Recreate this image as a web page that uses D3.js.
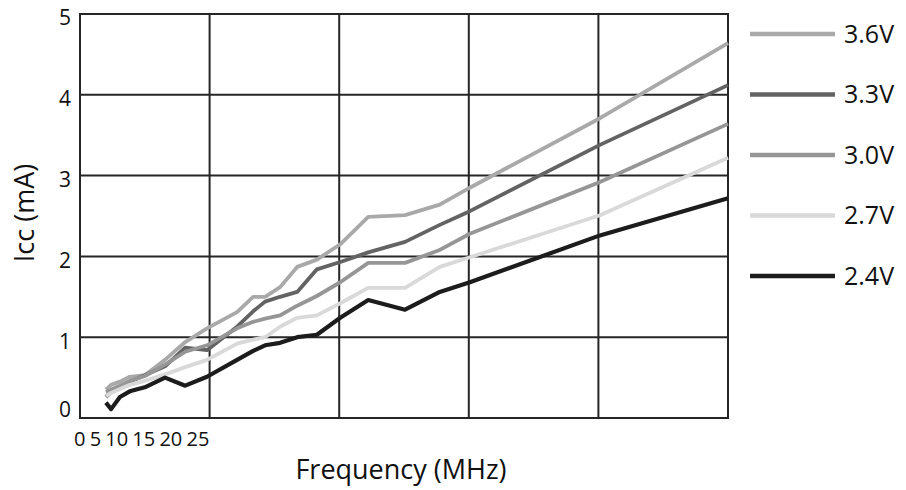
<!DOCTYPE html>
<html>
<head>
<meta charset="utf-8">
<script src="https://cdn.jsdelivr.net/npm/d3@7"></script>
<style>
  body { margin: 0; background: #fff; }
  text { font-family: 'Open Sans', 'Noto Sans', sans-serif; fill: #111; }
</style>
</head>
<body>
<div id="chart"></div>
<script>
// frequency (MHz) at which every curve was sampled
let freqs = [5, 6, 7.7, 9.6, 12.5, 16.4, 20.3, 24.5, 30.3, 33.4, 35.7, 38.6, 41.9, 45.7, 50.2, 55.6, 62.7, 69.4, 75.2, 100.3, 125]

let seriesNames = ['3.6V', '3.3V', '3.0V', '2.7V', '2.4V']

let icc36 = [0.35, 0.41, 0.45, 0.51, 0.53, 0.72, 0.94, 1.11, 1.31, 1.50, 1.50, 1.62, 1.87, 1.96, 2.15, 2.49, 2.51, 2.64, 2.85, 3.71, 4.64]
let icc33 = [0.26, 0.32, 0.38, 0.45, 0.53, 0.64, 0.87, 0.84, 1.13, 1.32, 1.44, 1.50, 1.56, 1.84, 1.93, 2.05, 2.18, 2.39, 2.56, 3.38, 4.12]
let icc30 = [0.32, 0.35, 0.40, 0.46, 0.52, 0.66, 0.82, 0.90, 1.11, 1.19, 1.23, 1.27, 1.39, 1.51, 1.68, 1.92, 1.92, 2.08, 2.28, 2.92, 3.64]
let icc27 = [0.27, 0.31, 0.36, 0.41, 0.46, 0.54, 0.63, 0.72, 0.92, 0.97, 1.00, 1.13, 1.24, 1.27, 1.42, 1.61, 1.61, 1.87, 1.99, 2.51, 3.22]
let icc24 = [0.19, 0.11, 0.26, 0.33, 0.38, 0.50, 0.40, 0.51, 0.72, 0.83, 0.90, 0.93, 1.00, 1.03, 1.24, 1.46, 1.34, 1.56, 1.68, 2.26, 2.72]

let yTicks = [0, 1, 2, 3, 4, 5]
let xGrid = [0, 25, 50, 75, 100, 125]
let xTickLabels = ['0', '5', '10', '15', '20', '25']

let colors = ['#a9a9a9', '#636363', '#969696', '#d9d9d9', '#1c1c1c']
let widths = [3.8, 3.8, 3.8, 3.8, 4.2]

let W = 906, H = 490
let plot = { left: 80, right: 728, top: 14, bottom: 418 }

let svg = d3.select('#chart').append('svg')
  .attr('width', W)
  .attr('height', H)

svg.append('rect').attr('width', W).attr('height', H).attr('fill', '#fff')

let x = d3.scaleLinear().domain([0, 125]).range([plot.left, plot.right])
let y = d3.scaleLinear().domain([0, 5]).range([plot.bottom, plot.top])

// grid
let grid = svg.append('g').attr('class', 'grid')
grid.selectAll('.hline')
  .data(yTicks)
  .enter().append('line')
  .attr('x1', plot.left - 1).attr('x2', plot.right + 1)
  .attr('y1', d => y(d)).attr('y2', d => y(d))
  .attr('stroke', '#262626')
  .attr('stroke-width', 2)

grid.selectAll('.vline')
  .data(xGrid)
  .enter().append('line')
  .attr('y1', plot.top).attr('y2', plot.bottom)
  .attr('x1', d => x(d)).attr('x2', d => x(d))
  .attr('stroke', '#262626')
  .attr('stroke-width', 2)

// y tick labels
svg.selectAll('.ylab')
  .data(yTicks)
  .enter().append('text')
  .attr('x', 71)
  .attr('y', d => y(d) + (d === 0 ? -8 : 4))
  .attr('dy', '0.35em')
  .attr('text-anchor', 'end')
  .style('font-size', '21px')
  .text(d => d)

// x tick labels, squeezed under the first cell as in the original
let xt = svg.append('text')
  .attr('x', x(0) - 6)
  .attr('y', 446)
  .style('font-size', '20px')
  .style('word-spacing', '-1px')
xTickLabels.forEach((t, i) => {
  xt.append('tspan').text((i ? ' ' : '') + t)
})

// axis titles
svg.append('text')
  .attr('x', 401)
  .attr('y', 479)
  .attr('text-anchor', 'middle')
  .style('font-size', '27px')
  .text('Frequency (MHz)')

svg.append('text')
  .attr('transform', 'translate(34,213) rotate(-90)')
  .attr('text-anchor', 'middle')
  .style('font-size', '27px')
  .text('Icc (mA)')

// curves
let allSeries = [icc36, icc33, icc30, icc27, icc24]
let curve = d3.line()
  .x((d, i) => x(freqs[i]))
  .y(d => y(d))

svg.append('g').selectAll('path')
  .data(allSeries)
  .enter().append('path')
  .attr('d', curve)
  .attr('fill', 'none')
  .attr('stroke', (d, i) => colors[i])
  .attr('stroke-width', (d, i) => widths[i])
  .attr('stroke-linejoin', 'round')

// legend
let legend = svg.append('g').attr('class', 'legend')
let leg = legend.selectAll('g')
  .data(seriesNames)
  .enter().append('g')
  .attr('transform', (d, i) => 'translate(750,' + (34 + i * 60.5) + ')')

leg.append('line')
  .attr('x1', 0).attr('x2', 85)
  .attr('stroke', (d, i) => colors[i])
  .attr('stroke-width', (d, i) => widths[i] + 0.5)

leg.append('text')
  .attr('x', 94)
  .attr('dy', '0.35em')
  .style('font-size', '25px')
  .text(d => d)
</script>
</body>
</html>
